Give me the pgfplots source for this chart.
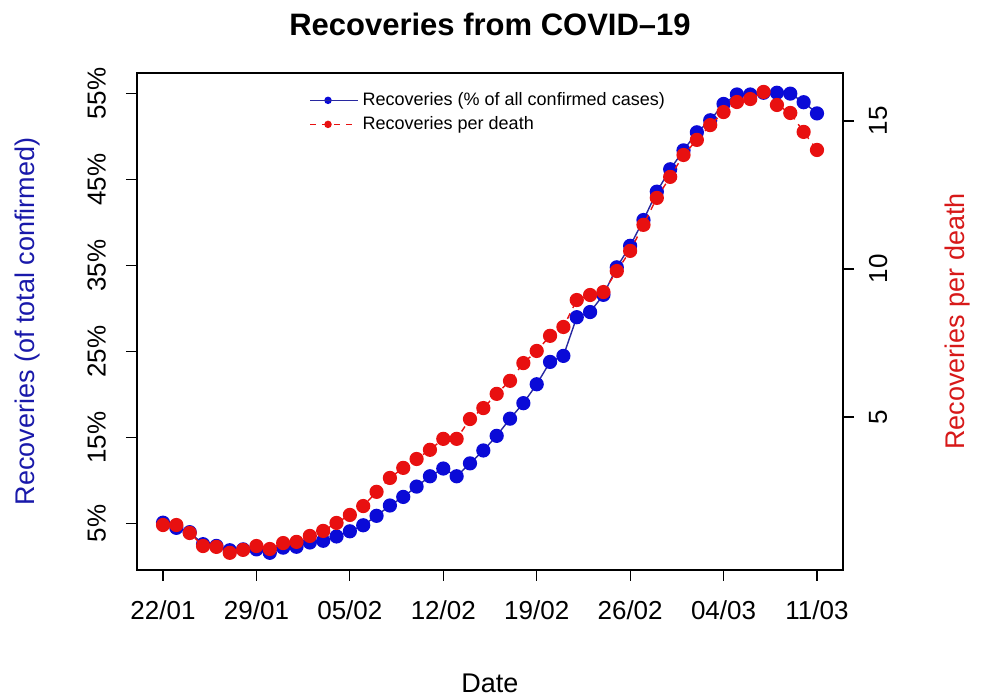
\documentclass[border=0pt]{standalone}
\usepackage{fontspec}
\setmainfont{Liberation Sans}
\usepackage{pgfplots}
\usepackage{pgfplotstable}
\pgfplotsset{compat=1.18}

\definecolor{rblue}{RGB}{10,10,215}
\definecolor{rblueline}{RGB}{40,40,160}
\definecolor{rbluelab}{RGB}{25,25,170}
\definecolor{rred}{RGB}{232,16,16}
\definecolor{rredlab}{RGB}{215,25,25}

% day index (0 = 22/01), recoveries % of confirmed, recoveries per death
\pgfplotstableread{
day pct perdeath
0 5.1 1.35
1 4.5 1.35
2 4.0 1.08
3 2.6 0.64
4 2.4 0.61
5 1.9 0.41
6 2.0 0.51
7 2.0 0.64
8 1.6 0.54
9 2.2 0.74
10 2.3 0.78
11 2.8 0.98
12 3.0 1.15
13 3.5 1.42
14 4.1 1.69
15 4.8 1.99
16 5.9 2.47
17 7.1 2.94
18 8.1 3.28
19 9.3 3.58
20 10.5 3.89
21 11.4 4.26
22 10.5 4.26
23 12.0 4.93
24 13.5 5.30
25 15.2 5.78
26 17.2 6.22
27 19.0 6.82
28 21.2 7.23
29 23.8 7.74
30 24.5 8.04
31 29.0 8.95
32 29.6 9.12
33 31.6 9.22
34 34.8 9.93
35 37.3 10.61
36 40.3 11.49
37 43.6 12.40
38 46.2 13.11
39 48.4 13.85
40 50.5 14.36
41 51.9 14.86
42 53.8 15.30
43 54.9 15.64
44 54.9 15.74
45 55.1 15.98
46 55.1 15.54
47 55.0 15.27
48 54.0 14.63
49 52.7 14.02
}\datatable

\pgfplotsset{
  rstyle/.style={
    scale only axis,
    width=353pt, height=248.5pt,
    at={(0,0)}, anchor=south west,
    xmin=-1.95, xmax=50.95,
    tick align=outside,
    major tick length=5.5pt,
    every tick/.style={black, line width=0.6pt},
    axis line style={line width=0.6pt},
    tick label style={font=\fontsize{13}{15}\selectfont},
    label style={font=\fontsize{13.5}{16}\selectfont},
    /pgf/number format/assume math mode=true,
  },
}

\begin{document}
\begin{tikzpicture}
\useasboundingbox (-68.5pt,-62.5pt) rectangle (422pt,285pt);

\begin{axis}[
  rstyle,
  ymin=-0.4, ymax=57.4,
  xtick={0,7,14,21,28,35,42,49},
  xticklabels={22/01,29/01,05/02,12/02,19/02,26/02,04/03,11/03},
  xtick pos=bottom,
  ytick={5,15,25,35,45,55},
  yticklabels={5\%,15\%,25\%,35\%,45\%,55\%},
  ytick pos=left,
  xticklabel style={anchor=north, yshift=-6.5pt},
  yticklabel style={rotate=90, anchor=south},
  yticklabel shift=6.5pt,
  title={Recoveries from COVID–19},
  title style={at={(0.5,1)}, anchor=center, yshift=18.5pt,
    font=\fontsize{15.5}{18}\selectfont\bfseries},
  xlabel={Date},
  xlabel style={at={(0.5,0)}, anchor=center, yshift=-56.5pt},
  ylabel={Recoveries (of total confirmed)},
  ylabel style={at={(axis description cs:-0.1544,0.5)}, anchor=center,
    text=rbluelab},
  legend style={draw=none, fill=none, at={(0.235,0.978)}, anchor=north west,
    font=\fontsize{9}{10.5}\selectfont, row sep=0pt},
  legend cell align=left,
  legend image code/.code={
    \draw[mark repeat=2, mark phase=2, mark size=1.5pt, #1]
      plot coordinates {(0pt,0pt) (9pt,0pt) (18pt,0pt)};
    \path (0pt,0pt) -- (24pt,0pt);
  },
]
\addplot[rblueline, line width=0.7pt, mark=*, mark size=3.2pt,
  mark options={solid, draw=rblue, fill=rblue}]
  table[x=day, y=pct] {\datatable};
\addlegendentry{Recoveries (\% of all confirmed cases)}
\addlegendimage{rred, dashed, line width=0.7pt, mark=*,
  mark options={solid, draw=rred, fill=rred}}
\addlegendentry{Recoveries per death}
\end{axis}

\begin{axis}[
  rstyle,
  ymin=-0.17, ymax=16.62,
  axis x line=none,
  axis y line*=right,
  ytick={5,10,15},
  yticklabels={5,10,15},
  yticklabel style={rotate=90, anchor=north},
  yticklabel shift=4pt,
  ylabel={Recoveries per death},
  ylabel style={at={(axis description cs:1.1629,0.5)}, anchor=center,
    text=rredlab},
]
\addplot[rred, dashed, line width=0.7pt, mark=*, mark size=3.2pt,
  mark options={solid, draw=rred, fill=rred}]
  table[x=day, y=perdeath] {\datatable};
\end{axis}
\end{tikzpicture}
\end{document}
